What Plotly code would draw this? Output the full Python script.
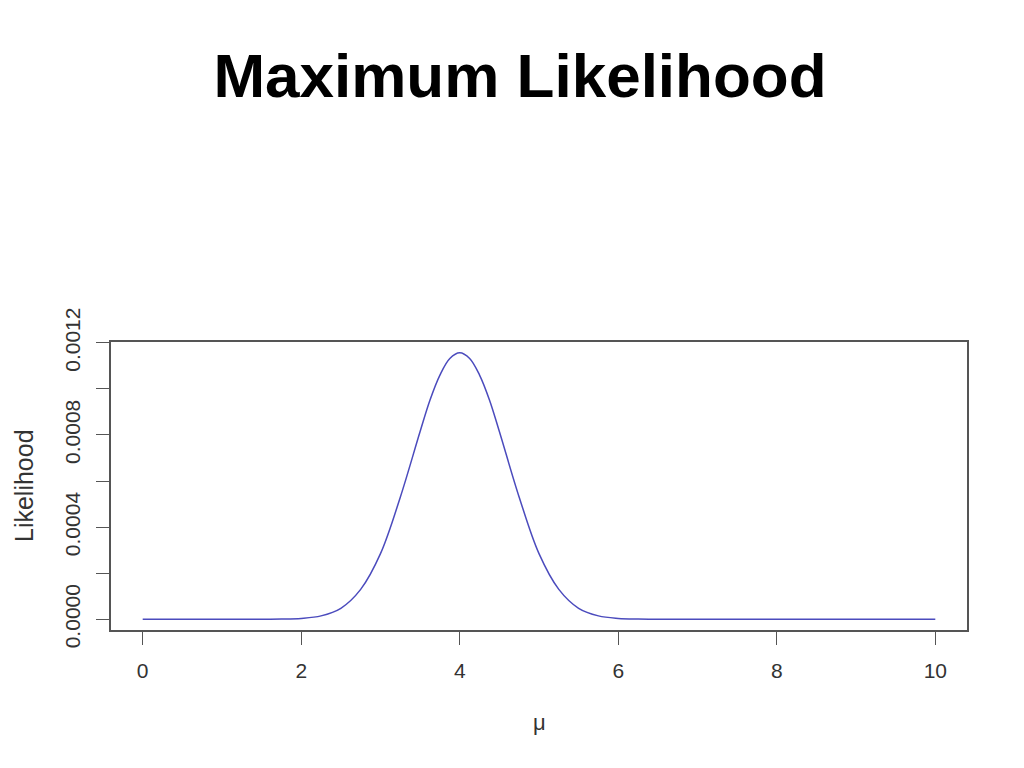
import plotly.graph_objects as go

# Values
mu = [0, 0.5, 1.0, 1.5, 1.75, 2.0, 2.25, 2.5, 2.75, 3.0, 3.25, 3.5, 3.625, 3.75, 3.875,
      4.0, 4.125, 4.25, 4.375, 4.5, 4.75, 5.0, 5.25, 5.5, 5.75, 6.0, 6.25, 6.5, 7.0,
      8.0, 9.0, 10.0]
likelihood = [0, 0, 0, 0.0000002, 0.000001, 0.000004, 0.000015, 0.000048, 0.000130,
              0.000285, 0.000530, 0.000815, 0.000952, 0.001060, 0.001132, 0.001157,
              0.001132, 0.001060, 0.000952, 0.000815, 0.000530, 0.000285, 0.000130,
              0.000048, 0.000015, 0.000004, 0.000001, 0.0000002, 0, 0, 0, 0]

x_ticks = [0, 2, 4, 6, 8, 10]
y_ticks = [0.0, 0.0002, 0.0004, 0.0006, 0.0008, 0.0010, 0.0012]
y_tick_text = ["0.0000", "", "0.0004", "", "0.0008", "", "0.0012"]

title_text = "Maximum Likelihood"
x_title = "μ"
y_title = "Likelihood"

font_family = "Liberation Sans, Arial, sans-serif"
axis_col = "#555555"

fig = go.Figure()
fig.add_trace(go.Scatter(
    x=mu, y=likelihood, mode="lines",
    line=dict(color="#4b4bbd", width=1.5, shape="spline", smoothing=1.0),
    hoverinfo="skip", showlegend=False,
))

fig.update_layout(
    width=1024, height=768,
    margin=dict(l=103, r=65, t=334, b=146),
    paper_bgcolor="white", plot_bgcolor="white",
    font=dict(family=font_family, color="#333333"),
    title=dict(text=title_text, x=0.5, xanchor="center", y=1 - 67 / 768,
               yanchor="middle",
               font=dict(family=font_family, size=62, color="black", weight="bold")),
    showlegend=False,
)

fig.update_xaxes(
    range=[-0.4, 10.4], tickvals=x_ticks, ticktext=[str(v) for v in x_ticks],
    showgrid=False, zeroline=False,
    showline=True, mirror=True, linecolor=axis_col, linewidth=1.5,
    ticks="outside", ticklen=13, tickwidth=1, tickcolor=axis_col,
    tickfont=dict(size=21, color="#333333"), ticklabelstandoff=8,
)
fig.update_yaxes(
    range=[-0.0000463, 0.0012035], tickvals=y_ticks, ticktext=y_tick_text,
    showgrid=False, zeroline=False,
    showline=True, mirror=True, linecolor=axis_col, linewidth=1.5,
    ticks="outside", ticklen=13, tickwidth=1, tickcolor=axis_col,
    tickangle=-90, tickfont=dict(size=21, color="#333333"), ticklabelstandoff=8,
)

fig.add_annotation(text=y_title, xref="paper", yref="paper", x=0, y=0.5,
                   xanchor="center", yanchor="middle", xshift=-87, textangle=-90,
                   showarrow=False, font=dict(size=25, color="#333333", family=font_family))
fig.add_annotation(text=x_title, xref="paper", yref="paper", x=0.5, y=0,
                   xanchor="center", yanchor="middle", yshift=-92,
                   showarrow=False, font=dict(size=22, color="#333333", family=font_family))

fig.write_html("out.html")
